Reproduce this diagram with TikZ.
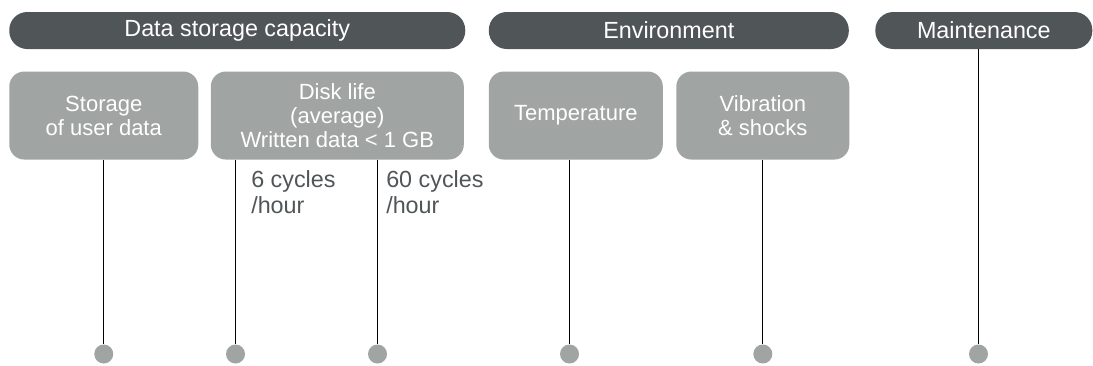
\documentclass[tikz,border=0pt]{standalone}
\usepackage{fontspec}
\setmainfont{Liberation Sans}
\usetikzlibrary{positioning}
\definecolor{hdrgray}{RGB}{80,85,88}
\definecolor{boxgray}{RGB}{160,165,164}
\begin{document}
\begin{tikzpicture}[x=0.75pt, y=-0.75pt,
	hdr/.style={fill=hdrgray, text=white, rounded corners=13.5pt, minimum height=27.75pt, inner sep=0, font=\fontsize{17.5pt}{19pt}\selectfont},
	topic/.style={fill=boxgray, text=white, rounded corners=11.25pt, minimum height=66pt, inner sep=0, align=center, font=\fontsize{16.5pt}{18pt}\selectfont},
	note/.style={text=hdrgray, inner sep=0, align=left, font=\fontsize{17.5pt}{19pt}\selectfont},
	stem/.style={draw=black, line width=0.75pt},
	dot/.style={circle, fill=boxgray, minimum size=14.25pt, inner sep=0}]
		\useasboundingbox (0,0) rectangle (1093,365);

		% headers
		\node[hdr, minimum width=342pt, anchor=west] (hdata) at (9,30.5) {Data storage capacity};
		\node[hdr, minimum width=270pt, right=17.25pt of hdata] (henv) {Environment};
		\node[hdr, minimum width=162.75pt, right=19.5pt of henv] (hmaint) {Maintenance};

		% topics
		\node[topic, minimum width=141.75pt, below=16.5pt of hdata.south west, anchor=north west] (bstore) {Storage\\of user data};
		\node[topic, minimum width=189.75pt, right=9pt of bstore] (bdisk) {Disk life\\(average)\\Written data < 1 GB};
		\node[topic, minimum width=130.5pt, below=16.5pt of henv.south west, anchor=north west] (btemp) {Temperature};
		\node[topic, minimum width=129.75pt, right=9.75pt of btemp] (bvib) {Vibration\\\& shocks};

		% stem tops
		\coordinate (dotrow) at (0,354);
		\coordinate[right=18.75pt of bdisk.south west] (dslow);
		\coordinate[right=125.25pt of bdisk.south west] (dfast);
		\coordinate[right=60.75pt of btemp.south west] (tstem);
		\coordinate[left=4pt of hmaint.south] (mstem);

		% dots
		\node[dot] (dstore) at (bstore.south |- dotrow) {};
		\node[dot] (dslowend) at (dslow |- dotrow) {};
		\node[dot] (dfastend) at (dfast |- dotrow) {};
		\node[dot] (dtemp) at (tstem |- dotrow) {};
		\node[dot] (dvib) at (bvib.south |- dotrow) {};
		\node[dot] (dmaint) at (mstem |- dotrow) {};

		% stems
		\draw[stem] (bstore.south) -- (dstore.north);
		\draw[stem] (dslow) -- (dslowend.north);
		\draw[stem] (dfast) -- (dfastend.north);
		\draw[stem] (tstem) -- (dtemp.north);
		\draw[stem] (bvib.south) -- (dvib.north);
		\draw[stem] (mstem) -- (dmaint.north);

		% rates
		\node[note, anchor=base west] (nslow) at (251,213) {6 cycles\\/hour};
		\node[note, anchor=base west] (nfast) at (386,213) {60 cycles\\/hour};
	\end{tikzpicture}
\end{document}
